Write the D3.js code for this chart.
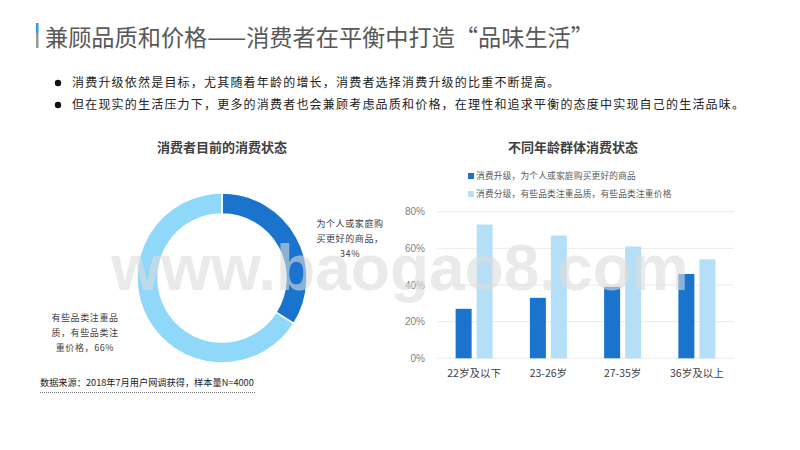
<!DOCTYPE html>
<html><head><meta charset="utf-8">
<script src="https://cdn.jsdelivr.net/npm/d3@7/dist/d3.min.js"></script>
<style>
body{margin:0;background:#fff;}
svg{display:block;font-family:"Noto Sans CJK SC","Microsoft YaHei",sans-serif;}
</style></head>
<body><svg id="c" width="800" height="450"></svg>
<script>
const titleText = "兼顾品质和价格——消费者在平衡中打造“品味生活”";
const bullets = [
  "消费升级依然是目标，尤其随着年龄的增长，消费者选择消费升级的比重不断提高。",
  "但在现实的生活压力下，更多的消费者也会兼顾考虑品质和价格，在理性和追求平衡的态度中实现自己的生活品味。"
];
const donutTitle = "消费者目前的消费状态";
const donutLabels = ["为个人或家庭购买更好的商品", "有些品类注重品质，有些品类注重价格"];
const donutValues = [34, 66];
const barTitle = "不同年龄群体消费状态";
const ageGroups = ["22岁及以下", "23-26岁", "27-35岁", "36岁及以上"];
const seriesNames = ["消费升级，为个人或家庭购买更好的商品", "消费分级，有些品类注重品质，有些品类注重价格"];
const upgradeValues = [27, 33, 39, 46];
const splitValues = [73, 67, 61, 54];
const yTicks = [0, 20, 40, 60, 80];
const sourceText = "数据来源：2018年7月用户网调获得，样本量N=4000";

const svg = d3.select("#c");

// Header
svg.append("rect").attr("x",36).attr("y",23).attr("width",2.5).attr("height",10).attr("fill","#2E9BE6");
svg.append("rect").attr("x",36).attr("y",33).attr("width",2.5).attr("height",15).attr("fill","#999");
svg.append("text").attr("x",45).attr("y",46).attr("font-size",23.2).attr("fill","#595959").text(titleText);

// Bullets
bullets.forEach((b,i)=>{
  const y = 83 + i*22;
  svg.append("circle").attr("cx",58).attr("cy",y).attr("r",3.2).attr("fill","#111");
  svg.append("text").attr("x",72).attr("y",y+4.2).attr("font-size",12).attr("letter-spacing",1.2).attr("fill","#222").text(b);
});

// Donut
const dc = {x:222, y:278};
svg.append("text").attr("x",dc.x).attr("y",152).attr("text-anchor","middle").attr("font-size",13).attr("font-weight","bold").attr("fill","#404040").text(donutTitle);
const pie = d3.pie().sort(null).value(d=>d)(donutValues);
const arc = d3.arc().innerRadius(64).outerRadius(85);
const donutColors = ["#1A74CE","#8FD8F9"];
svg.append("g").attr("transform",`translate(${dc.x},${dc.y})`)
  .selectAll("path").data(pie).join("path")
  .attr("d",arc).attr("fill",(d,i)=>donutColors[i]).attr("stroke","#fff").attr("stroke-width",1.5);

function multiline(x, y, lines, anchor){
  const t = svg.append("text").attr("x",x).attr("y",y).attr("text-anchor",anchor).attr("font-size",9).attr("letter-spacing",0.6).attr("fill","#404040");
  lines.forEach((l,i)=>t.append("tspan").attr("x",x).attr("dy",i?15:0).text(l));
}
multiline(350, 227, [donutLabels[0].slice(0,7), donutLabels[0].slice(7)+"，", donutValues[0]+"%"], "middle");
multiline(85, 321, [donutLabels[1].slice(0,7), donutLabels[1].slice(7,14), donutLabels[1].slice(14)+"，"+donutValues[1]+"%"], "middle");

// Source
svg.append("text").attr("x",40).attr("y",386).attr("font-size",9.2).attr("fill","#222").text(sourceText);
svg.append("line").attr("x1",40).attr("x2",256).attr("y1",392.5).attr("y2",392.5).attr("stroke","#777").attr("stroke-width",1).attr("stroke-dasharray","1,1");

// Bar chart
svg.append("text").attr("x",573).attr("y",152).attr("text-anchor","middle").attr("font-size",13).attr("font-weight","bold").attr("fill","#404040").text(barTitle);
const barColors = ["#1A74CE","#B5DFF6"];
seriesNames.forEach((s,i)=>{
  const y = 175 + i*18;
  svg.append("rect").attr("x",468).attr("y",y-2).attr("width",6).attr("height",6).attr("fill",barColors[i]);
  svg.append("text").attr("x",476).attr("y",y+4).attr("font-size",8.7).attr("letter-spacing",0.2).attr("fill","#595959").text(s);
});
const x = d3.scaleBand().domain(ageGroups).range([437,734]);
const y = d3.scaleLinear().domain([0,80]).range([358.3,211.7]);
const g = svg.append("g");
g.selectAll("line.grid").data(yTicks).join("line").attr("class","grid")
  .attr("x1",437).attr("x2",734).attr("y1",d=>y(d)).attr("y2",d=>y(d))
  .attr("stroke","#EBEBEB").attr("stroke-width",1);
g.selectAll("text.yt").data(yTicks).join("text").attr("class","yt")
  .attr("x",425).attr("y",d=>y(d)+3.5).attr("text-anchor","end").attr("font-size",10).attr("fill","#7F7F7F")
  .attr("font-family","Liberation Sans, Arial, sans-serif").text(d=>d+"%");
const bw = 16, gap = 5;
[upgradeValues, splitValues].forEach((vals,si)=>{
  g.selectAll("rect.s"+si).data(vals).join("rect").attr("class","s"+si)
    .attr("x",(d,i)=>x(ageGroups[i])+x.bandwidth()/2 - bw - gap/2 + si*(bw+gap))
    .attr("y",d=>y(d)).attr("width",bw).attr("height",d=>y(0)-y(d))
    .attr("fill",barColors[si]);
});
g.selectAll("text.xt").data(ageGroups).join("text").attr("class","xt")
  .attr("x",d=>x(d)+x.bandwidth()/2).attr("y",377).attr("text-anchor","middle")
  .attr("font-size",10.5).attr("fill","#404040").text(d=>d);

// Watermark
svg.append("text").attr("x",400).attr("y",290).attr("text-anchor","middle")
  .attr("font-family","Liberation Sans, Arial, sans-serif").attr("font-weight","bold").attr("font-size",64)
  .attr("fill","#DCDCDC").attr("fill-opacity",0.6).text("www.baogao8.com");
</script></body></html>
